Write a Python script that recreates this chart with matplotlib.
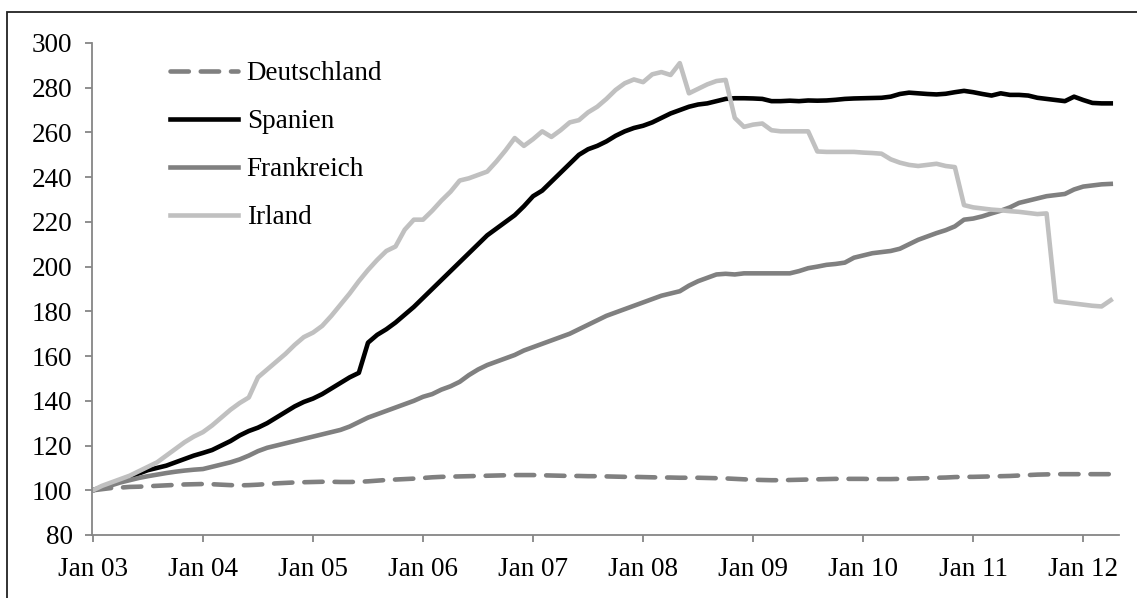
import numpy as np
import matplotlib
matplotlib.use('Agg')
import matplotlib.pyplot as plt
from matplotlib.patches import Rectangle

# monthly index values, Jan 2003 = 100, Jan 2003 .. Apr 2012
deutschland = [
    100, 100.5, 101, 101.2, 101.5, 101.6, 101.8, 102, 102.2, 102.4, 102.6, 102.7,
    102.8, 102.7, 102.5, 102.3, 102.2, 102.3, 102.5, 102.8, 103.1, 103.3, 103.5, 103.6,
    103.7, 103.8, 103.8, 103.7, 103.7, 103.8, 104, 104.3, 104.6, 104.8, 105, 105.2,
    105.5, 105.8, 106, 106.1, 106.2, 106.3, 106.4, 106.5, 106.6, 106.7, 106.8, 106.8,
    106.8, 106.7, 106.6, 106.5, 106.4, 106.4, 106.3, 106.3, 106.2, 106.1, 106, 106,
    105.9, 105.8, 105.7, 105.7, 105.6, 105.6, 105.6, 105.5, 105.4, 105.3, 105.1, 104.9,
    104.7, 104.6, 104.5, 104.5, 104.6, 104.7, 104.8, 104.9, 105, 105.1, 105.1, 105.1,
    105.1, 105, 105, 105, 105.1, 105.2, 105.3, 105.4, 105.6, 105.7, 105.9, 106,
    106, 106.1, 106.2, 106.3, 106.4, 106.6, 106.8, 107, 107.1, 107.2, 107.2, 107.2,
    107.2, 107.2, 107.2, 107.2]
spanien = [
    100, 101.5, 103, 104.5, 106, 107.5, 109, 110, 111, 112.5, 114, 115.5,
    116.7, 118, 120, 122, 124.5, 126.5, 128, 130, 132.5, 135, 137.5, 139.5,
    141, 143, 145.5, 148, 150.5, 152.5, 166, 169.5, 172, 175, 178.5, 182,
    186, 190, 194, 198, 202, 206, 210, 214, 217, 220, 223, 227,
    231.5, 234, 238, 242, 246, 250, 252.5, 254, 256, 258.5, 260.5, 262,
    263, 264.5, 266.5, 268.5, 270, 271.5, 272.5, 273, 274, 275, 275.3, 275.3,
    275.2, 275, 274, 274, 274.2, 274, 274.3, 274.2, 274.3, 274.6, 275, 275.2,
    275.3, 275.4, 275.5, 276, 277.2, 277.8, 277.5, 277.2, 277, 277.3, 278, 278.6,
    278, 277.2, 276.5, 277.5, 276.8, 276.8, 276.5, 275.5, 275, 274.5, 274, 276,
    274.5, 273.2, 273, 273]
frankreich = [
    100, 101, 102.2, 103.5, 104.5, 105.5, 106.3, 107, 107.7, 108.3, 108.8, 109.2,
    109.5, 110.5, 111.5, 112.5, 113.8, 115.5, 117.5, 119, 120, 121, 122, 123,
    124, 125, 126, 127, 128.5, 130.5, 132.5, 134, 135.5, 137, 138.5, 140,
    141.8, 143, 145, 146.5, 148.5, 151.5, 154, 156, 157.5, 159, 160.5, 162.5,
    164, 165.5, 167, 168.5, 170, 172, 174, 176, 178, 179.5, 181, 182.5,
    184, 185.5, 187, 188, 189, 191.5, 193.5, 195, 196.5, 196.8, 196.5, 197,
    197, 197, 197, 197, 197, 198, 199.3, 200, 200.8, 201.2, 201.8, 204,
    205, 206, 206.5, 207, 208, 210, 212, 213.5, 215, 216.3, 218, 221,
    221.5, 222.5, 223.8, 225, 226.5, 228.5, 229.5, 230.5, 231.5, 232, 232.5, 234.5,
    235.8, 236.3, 236.8, 237]
irland = [
    100, 102, 103.5, 105, 106.5, 108.5, 110.5, 112.5, 115.5, 118.5, 121.5, 124,
    126, 129, 132.5, 136, 139, 141.5, 150.5, 154, 157.5, 161, 165, 168.5,
    170.5, 173.5, 178, 183, 188, 193.5, 198.5, 203, 207, 209, 216.5, 221,
    221, 225, 229.5, 233.5, 238.5, 239.5, 241, 242.5, 247, 252, 257.5, 254,
    257, 260.5, 258, 261, 264.5, 265.5, 269, 271.5, 275, 279, 282, 283.7,
    282.5, 286, 287, 285.7, 291, 277.5, 279.5, 281.5, 283, 283.5, 266.5, 262.5,
    263.5, 264, 261, 260.5, 260.5, 260.5, 260.5, 251.5, 251.3, 251.3, 251.3, 251.3,
    251, 250.8, 250.5, 248, 246.5, 245.5, 245, 245.5, 246, 245, 244.5, 227.5,
    226.5, 226, 225.5, 225.2, 224.8, 224.5, 224, 223.5, 223.8, 184.5, 184, 183.5,
    183, 182.5, 182.2, 185]

tick_labels = ['Jan 03', 'Jan 04', 'Jan 05', 'Jan 06', 'Jan 07',
               'Jan 08', 'Jan 09', 'Jan 10', 'Jan 11', 'Jan 12']

plt.rcParams['font.family'] = ['Liberation Serif', 'DejaVu Serif']

fig = plt.figure(figsize=(11.37, 5.98), dpi=100)
ax = fig.add_axes([92/1137, 1 - 535/598, (1119-92)/1137, (535-43)/598])

m = np.arange(len(spanien))
lw = 3.3
ax.plot(m, deutschland, color='#808080', lw=lw, dashes=(4.0, 2.6),
        dash_capstyle='round', label='Deutschland')
ax.plot(m, spanien, color='black', lw=lw, label='Spanien')
ax.plot(m, frankreich, color='#808080', lw=lw, label='Frankreich')
ax.plot(m, irland, color='#c0c0c0', lw=lw, label='Irland')

ax.set_xlim(-0.1, 111.9)
ax.set_ylim(80, 300)
ax.set_yticks(range(80, 301, 20))
ax.set_xticks(range(0, 12 * len(tick_labels), 12))
ax.set_xticklabels(tick_labels)

for s in ['top', 'right']:
    ax.spines[s].set_visible(False)
for s in ['left', 'bottom']:
    ax.spines[s].set_color('#868686')
    ax.spines[s].set_linewidth(1.3)
ax.tick_params(axis='both', direction='out', length=5, width=1.3,
               color='#868686', labelsize=19.5, labelcolor='black')
ax.tick_params(axis='y', pad=9)
ax.tick_params(axis='x', pad=11)

ax.legend(loc='upper left', bbox_to_anchor=(0.076, 0.963), frameon=False,
          fontsize=19.5, handlelength=2.5, handletextpad=0.33,
          labelspacing=0.85, borderpad=0, borderaxespad=0)

# outer frame of the chart area
fig.patches.append(Rectangle((7/1137, -0.1), 1.2, 1 - 12/598 + 0.1,
                             transform=fig.transFigure, fill=False,
                             edgecolor='#222222', lw=1.3))

fig.savefig('out.png', dpi=100)
